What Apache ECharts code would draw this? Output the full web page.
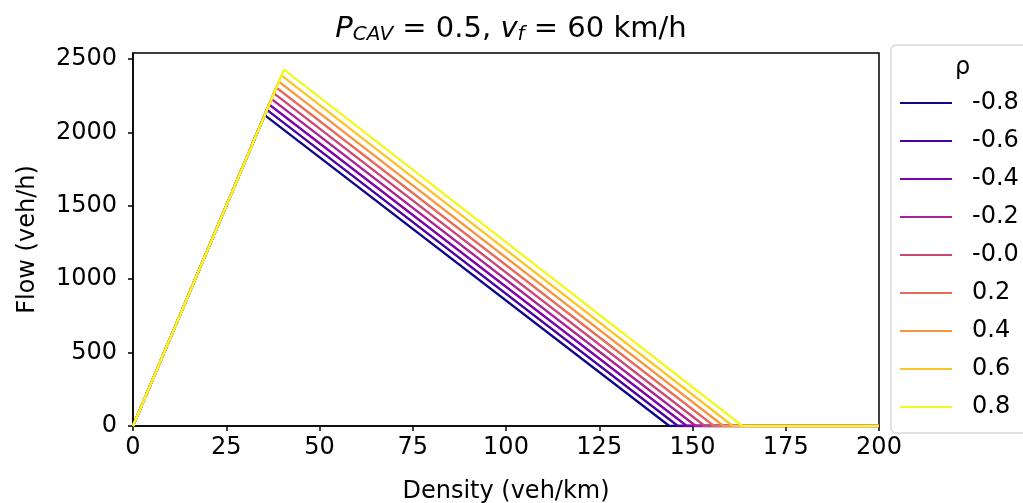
<!DOCTYPE html>
<html>
<head>
<meta charset="utf-8">
<script src="https://cdn.jsdelivr.net/npm/echarts@6/dist/echarts.min.js"></script>
<style>html,body{margin:0;padding:0;background:#fff}#c{width:1023px;height:503px}</style>
</head>
<body>
<div id="c"></div>
<script>
const rhoLabels = ['-0.8','-0.6','-0.4','-0.2','-0.0','0.2','0.4','0.6','0.8'];
const colors = ['#0d0887','#4c02a1','#7e03a8','#a92395','#cc4778','#e56b5d','#f89540','#fdc527','#f0f921'];
const peakDensity = [35.3, 35.9, 36.5, 37.1, 37.8, 38.4, 39.1, 39.8, 40.5];
const peakFlow = [2118, 2153, 2190, 2228, 2266, 2306, 2346, 2388, 2428];
const jamDensity = [143.8, 146.1, 148.5, 150.9, 153.3, 155.8, 158.3, 160.8, 163.4];
const xTicks = [0, 25, 50, 75, 100, 125, 150, 175, 200];
const yTicks = [0, 500, 1000, 1500, 2000, 2500];
const xMax = 200;

const font = 'DejaVu Sans';
const series = rhoLabels.map((name, i) => ({
  name: name,
  type: 'line',
  showSymbol: false,
  symbol: 'none',
  lineStyle: { width: 2.3, color: colors[i] },
  itemStyle: { color: colors[i] },
  data: [[0, 0], [peakDensity[i], peakFlow[i]], [jamDensity[i], 0], [xMax, 0]],
  z: 2 + i
}));

const chart = echarts.init(document.getElementById('c'), null, { renderer: 'canvas' });
chart.setOption({
  animation: false,
  backgroundColor: '#fff',
  title: {
    text: '{i|P}{s|CAV} = 0.5, {i|v}{s|f} = 60 km/h',
    left: 506, top: 9, textAlign: 'center',
    textStyle: {
      fontFamily: font, fontSize: 29, fontWeight: 'normal', color: '#000',
      rich: {
        i: { fontFamily: font, fontStyle: 'italic', fontSize: 29, color: '#000' },
        s: { fontFamily: font, fontStyle: 'italic', fontSize: 20, color: '#000', verticalAlign: 'bottom', padding: [11, 0, 0, 0] }
      }
    }
  },
  grid: { left: 133, right: 144, top: 53, bottom: 77, outerBoundsMode: 'none', containLabel: false, show: true, borderColor: '#000', borderWidth: 1.5, backgroundColor: 'transparent' },
  xAxis: {
    type: 'value', min: 0, max: xMax, interval: 25,
    name: 'Density (veh/km)', nameLocation: 'middle', nameGap: 54,
    nameTextStyle: { fontFamily: font, fontSize: 24, color: '#000' },
    axisLine: { show: true, lineStyle: { color: '#000', width: 1.5 } },
    axisTick: { show: true, length: 5, lineStyle: { color: '#000', width: 1.5 }, customValues: xTicks },
    axisLabel: { fontFamily: font, fontSize: 24, color: '#000', margin: 10, customValues: xTicks, formatter: v => String(v) },
    splitLine: { show: false }
  },
  yAxis: {
    type: 'value', min: 0, max: 2541, interval: 500,
    name: 'Flow (veh/h)', nameLocation: 'middle', nameGap: 93, nameRotate: 90,
    nameTextStyle: { fontFamily: font, fontSize: 24, color: '#000' },
    axisLine: { show: true, lineStyle: { color: '#000', width: 1.5 } },
    axisTick: { show: true, length: 5, lineStyle: { color: '#000', width: 1.5 }, customValues: yTicks },
    axisLabel: { fontFamily: font, fontSize: 24, color: '#000', margin: 16, customValues: yTicks, formatter: v => String(v) },
    splitLine: { show: false }
  },
  legend: {
    orient: 'vertical', left: 891, top: 45,
    data: rhoLabels.map(n => ({ name: n, icon: 'rect' })),
    itemWidth: 52, itemHeight: 2, itemGap: 14,
    padding: [46, 60, 14, 9],
    borderColor: '#d9d9d9', borderWidth: 1.5, borderRadius: 5, backgroundColor: '#fff',
    textStyle: { fontFamily: font, fontSize: 24, color: '#000', lineHeight: 24, padding: [0, 0, 0, 15] }
  },
  graphic: [{
    type: 'text', left: 955, top: 56, z: 100,
    style: { text: 'ρ', font: '24px "DejaVu Sans"', fill: '#000' }
  }],
  series: series
});
</script>
</body>
</html>
